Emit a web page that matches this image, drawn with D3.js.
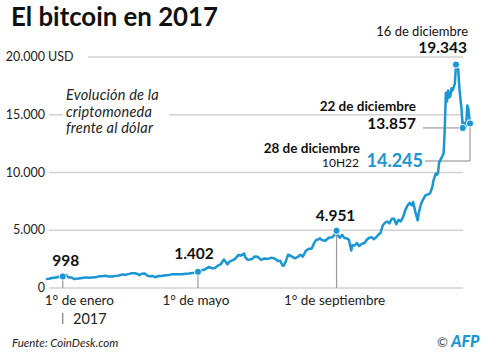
<!DOCTYPE html>
<html><head><meta charset="utf-8">
<script src="https://cdn.jsdelivr.net/npm/d3@7"></script>
<style>body{margin:0;background:#fff} svg{display:block;font-family:Lato,"Noto Sans",sans-serif}</style>
</head><body><svg id="c" width="500" height="359"></svg>
<script>
// ---- data (CoinDesk BPI, USD) ----
const dates = [
"2016-12-18","2016-12-20","2016-12-22","2016-12-24","2016-12-26","2016-12-28","2016-12-30",
"2017-01-01","2017-01-03","2017-01-04","2017-01-05","2017-01-07","2017-01-09","2017-01-11","2017-01-13","2017-01-15","2017-01-18","2017-01-21","2017-01-24","2017-01-27","2017-01-30",
"2017-02-02","2017-02-05","2017-02-08","2017-02-11","2017-02-14","2017-02-17","2017-02-20","2017-02-23","2017-02-26",
"2017-03-01","2017-03-03","2017-03-06","2017-03-09","2017-03-10","2017-03-12","2017-03-15","2017-03-17","2017-03-19","2017-03-22","2017-03-24","2017-03-27","2017-03-30",
"2017-04-02","2017-04-05","2017-04-08","2017-04-11","2017-04-14","2017-04-17","2017-04-20","2017-04-23","2017-04-26","2017-04-29",
"2017-05-01","2017-05-04","2017-05-06","2017-05-09","2017-05-11","2017-05-13","2017-05-16","2017-05-19","2017-05-21","2017-05-24","2017-05-25","2017-05-27","2017-05-29",
"2017-06-01","2017-06-03","2017-06-06","2017-06-08","2017-06-11","2017-06-12","2017-06-14","2017-06-16","2017-06-18","2017-06-20","2017-06-23","2017-06-26","2017-06-29",
"2017-07-02","2017-07-05","2017-07-08","2017-07-11","2017-07-13","2017-07-15","2017-07-16","2017-07-18","2017-07-20","2017-07-23","2017-07-26","2017-07-29","2017-07-31",
"2017-08-02","2017-08-05","2017-08-07","2017-08-10","2017-08-12","2017-08-14","2017-08-16","2017-08-17","2017-08-19","2017-08-22","2017-08-25","2017-08-28","2017-08-30",
"2017-09-01","2017-09-02","2017-09-04","2017-09-06","2017-09-08","2017-09-10","2017-09-12","2017-09-14","2017-09-15","2017-09-17","2017-09-19","2017-09-21","2017-09-23","2017-09-26","2017-09-28","2017-09-30",
"2017-10-02","2017-10-04","2017-10-06","2017-10-08","2017-10-10","2017-10-12","2017-10-14","2017-10-16","2017-10-18","2017-10-20","2017-10-22","2017-10-24","2017-10-26","2017-10-28","2017-10-30",
"2017-11-01","2017-11-03","2017-11-05","2017-11-07","2017-11-08","2017-11-10","2017-11-12","2017-11-13","2017-11-15","2017-11-17","2017-11-19","2017-11-21","2017-11-23","2017-11-25","2017-11-26","2017-11-28","2017-11-29","2017-11-30",
"2017-12-01","2017-12-03","2017-12-05","2017-12-06","2017-12-07","2017-12-08","2017-12-09","2017-12-10","2017-12-11","2017-12-12","2017-12-13","2017-12-14","2017-12-15","2017-12-16","2017-12-17","2017-12-18","2017-12-19","2017-12-20","2017-12-21","2017-12-22","2017-12-23","2017-12-24","2017-12-25","2017-12-26","2017-12-27","2017-12-28T10:22"
];
const prices = [
790,800,860,890,900,975,960,
998,1030,1130,1005,900,905,780,810,820,870,920,890,915,920,
1010,1020,1055,1000,1000,1050,1085,1175,1150,
1225,1280,1275,1190,1110,1230,1245,1070,1020,1040,935,1040,1040,
1100,1130,1180,1200,1180,1195,1240,1250,1290,1330,
1402,1550,1550,1720,1820,1720,1730,1960,2040,2460,2350,2050,2280,
2410,2520,2870,2800,2980,2650,2450,2470,2510,2730,2700,2430,2560,
2520,2610,2560,2330,2360,1950,1930,2320,2880,2750,2570,2720,2880,
2720,3250,3380,3420,3880,4170,4200,4300,4150,4090,4350,4390,4580,
4951,4590,4350,4600,4330,4300,4170,3250,3700,3680,3900,3630,3800,3920,4200,4340,
4400,4230,4370,4610,4760,5430,5650,5750,5600,6000,6000,5520,5900,5770,6130,
6740,7150,7370,7140,7450,6570,5860,6530,7300,7700,8040,8100,8200,8750,9300,9900,9800,9950,
10860,11240,11650,13700,16900,16150,17100,16500,16600,17300,17100,17400,17700,19343,19100,18900,17300,16300,15400,13857,14300,13900,14000,15800,15500,14245
];
const yTicks = [0, 5000, 10000, 15000, 20000];
const xTickDates = ["2017-01-01", "2017-05-01", "2017-09-01"];
const xTickLabels = ["1° de enero", "1° de mayo", "1° de septiembre"];
const annDates = ["2017-01-01", "2017-05-01", "2017-09-01", "2017-12-16", "2017-12-22", "2017-12-28T10:22"];
const annValues = [998, 1402, 4951, 19343, 13857, 14245];
const annTitles = ["", "", "", "16 de diciembre", "22 de diciembre", "28 de diciembre"];

const BLUE = "#1996d3";
const loc = d3.formatLocale({decimal: ",", thousands: ".", grouping: [3], currency: ["", ""]});
const fmt = loc.format(",.0f");

const data = dates.map((d, i) => ({date: d3.isoParse(d), v: prices[i]}));
const svg = d3.select("#c");

const x = d3.scaleTime().domain(d3.extent(data, d => d.date)).range([47, 470]);
const y = d3.scaleLinear().domain([0, 20000]).range([288, 57]);

// title
svg.append("text").attr("x", 11).attr("y", 25.5).attr("font-size", 25.8).attr("font-weight", 700)
  .attr("fill", "#111").text("El bitcoin en 2017");

// gridlines
svg.append("g").selectAll("line").data(yTicks).join("line")
  .attr("x1", d => d === 20000 ? 88 : 49).attr("x2", 463)
  .attr("y1", d => y(d)).attr("y2", d => y(d))
  .attr("stroke", "#d2d2d2").attr("stroke-width", 1.5);

// y labels
const yl = svg.append("g").attr("font-size", 12.5).attr("fill", "#222");
yl.selectAll("text").data(yTicks).join("text")
  .attr("x", 45).attr("y", d => y(d) + 4).attr("text-anchor", "end").text(d => fmt(d));
yl.append("text").attr("x", 48).attr("y", y(20000) + 4).text("USD");

// subtitle (white box behind)
svg.append("rect").attr("x", 63).attr("y", 86).attr("width", 106).attr("height", 52).attr("fill", "#fff");
const sub = svg.append("text").attr("font-size", 14.5).attr("font-style", "italic").attr("fill", "#222")
  .attr("letter-spacing", 0.2);
["Evolución de la", "criptomoneda", "frente al dólar"].forEach((t, i) =>
  sub.append("tspan").attr("x", 66).attr("y", 100 + i * 16.5).text(t));

// vertical markers for first three annotations
[0, 1, 2].forEach(i => {
  const d = d3.isoParse(annDates[i]);
  svg.append("line").attr("x1", x(d)).attr("x2", x(d)).attr("y1", y(annValues[i])).attr("y2", 288)
    .attr("stroke", "#999").attr("stroke-width", 1.2);
});

// connectors for Dec 22 / Dec 28
const d22 = d3.isoParse(annDates[4]), d28 = d3.isoParse(annDates[5]);
svg.append("line").attr("x1", 423).attr("x2", x(d22)).attr("y1", y(annValues[4])).attr("y2", y(annValues[4]))
  .attr("stroke", "#888").attr("stroke-width", 1);
svg.append("path").attr("d", `M425,161H${x(d28)}V${y(annValues[5])}`)
  .attr("fill", "none").attr("stroke", "#888").attr("stroke-width", 1);

// line
svg.append("path").datum(data)
  .attr("d", d3.line().x(d => x(d.date)).y(d => y(d.v)))
  .attr("fill", "none").attr("stroke", BLUE).attr("stroke-width", 2.5)
  .attr("stroke-linejoin", "round").attr("stroke-linecap", "round");

// dots
svg.append("g").selectAll("circle").data(annDates).join("circle")
  .attr("cx", d => x(d3.isoParse(d))).attr("cy", (d, i) => y(annValues[i])).attr("r", 3.6)
  .attr("fill", BLUE).attr("stroke", "#fff").attr("stroke-width", 1);

// x labels
const xl = svg.append("g").attr("font-size", 13.5).attr("fill", "#222");
xTickDates.forEach((d, i) => {
  const px = x(d3.isoParse(d));
  xl.append("text").attr("x", i === 0 ? px - 18 : px - 2).attr("y", 305)
    .attr("text-anchor", i === 0 ? "start" : "middle").text(xTickLabels[i]);
});
svg.append("line").attr("x1", x(d3.isoParse(xTickDates[0]))).attr("x2", x(d3.isoParse(xTickDates[0])))
  .attr("y1", 313).attr("y2", 324).attr("stroke", "#666").attr("stroke-width", 1);
svg.append("text").attr("x", 73).attr("y", 324).attr("font-size", 14.5).attr("fill", "#222").text("2017");

// annotation values
const ag = svg.append("g").attr("fill", "#111");
const offs = [[3, -10], [-4, -13], [-1, -10]];
[0, 1, 2].forEach(i => {
  const px = x(d3.isoParse(annDates[i])), py = y(annValues[i]);
  ag.append("text").attr("x", px + offs[i][0]).attr("y", py + offs[i][1]).attr("text-anchor", "middle")
    .attr("font-size", 15.5).attr("font-weight", 700).text(fmt(annValues[i]));
});
// Dec 16
ag.append("text").attr("x", 468).attr("y", 36).attr("text-anchor", "end").attr("font-size", 13)
  .attr("font-weight", 400).text(annTitles[3]);
ag.append("text").attr("x", 467).attr("y", 53).attr("text-anchor", "end").attr("font-size", 15.5)
  .attr("font-weight", 700).text(fmt(annValues[3]));
// Dec 22
ag.append("text").attr("x", 416).attr("y", 111).attr("text-anchor", "end").attr("font-size", 13.5)
  .attr("font-weight", 700).text(annTitles[4]);
ag.append("text").attr("x", 416).attr("y", 129).attr("text-anchor", "end").attr("font-size", 15.5)
  .attr("font-weight", 700).text(fmt(annValues[4]));
// Dec 28
ag.append("text").attr("x", 360).attr("y", 153).attr("text-anchor", "end").attr("font-size", 13.5)
  .attr("font-weight", 700).text(annTitles[5]);
ag.append("text").attr("x", 359).attr("y", 167).attr("text-anchor", "end").attr("font-size", 12)
  .attr("font-weight", 400).text("10H22");
ag.append("text").attr("x", 423).attr("y", 167).attr("text-anchor", "end").attr("font-size", 18)
  .attr("font-weight", 700).attr("fill", BLUE).text(fmt(annValues[5]));

// footer
svg.append("text").attr("x", 12).attr("y", 347).attr("font-size", 11.5).attr("font-style", "italic")
  .attr("fill", "#222").text("Fuente: CoinDesk.com");
svg.append("text").attr("x", 437).attr("y", 347).attr("font-size", 13).attr("fill", "#444").text("©");
svg.append("text").attr("x", 451).attr("y", 347).attr("font-size", 16).attr("font-weight", 900)
  .attr("font-style", "italic").attr("fill", BLUE).text("AFP");
</script></body></html>
